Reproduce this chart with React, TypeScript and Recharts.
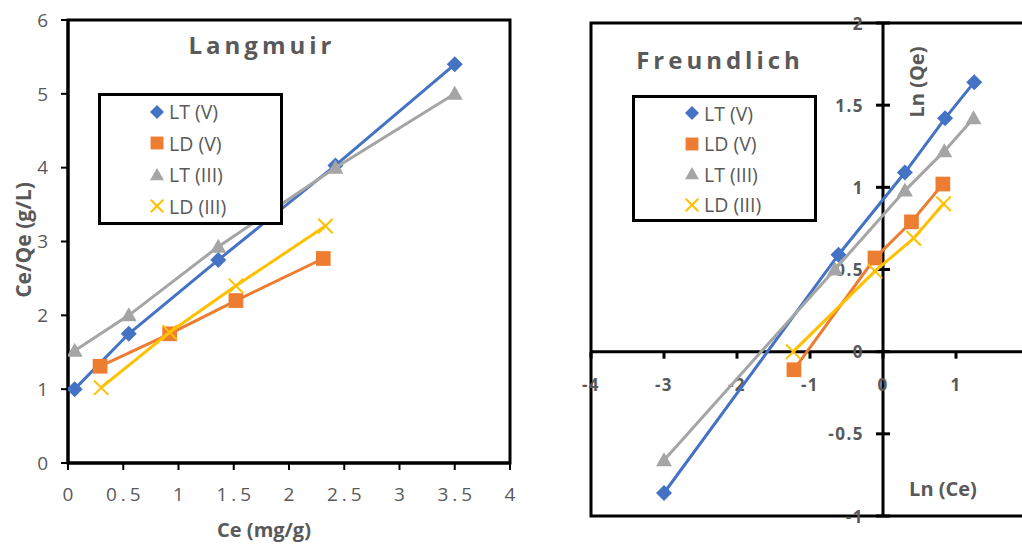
import React from 'react';
import {
  ScatterChart,
  Scatter,
  XAxis,
  YAxis,
  ReferenceArea,
  ReferenceLine,
  ReferenceDot,
  Legend,
} from 'recharts';

// ---------- series meta ----------
const seriesNames = ['LT (V)', 'LD (V)', 'LT (III)', 'LD (III)'];
const seriesColors = ['#4472C4', '#ED7D31', '#A5A5A5', '#FFC000'];
const seriesShapes = ['diamond', 'square', 'triangle', 'x'];

// ---------- Langmuir data ----------
const langLTV_x = [0.06, 0.55, 1.36, 2.42, 3.5];
const langLTV_y = [1.0, 1.75, 2.75, 4.03, 5.4];
const langLDV_x = [0.29, 0.92, 1.52, 2.31];
const langLDV_y = [1.31, 1.75, 2.2, 2.77];
const langLTIII_x = [0.06, 0.55, 1.36, 2.42, 3.5];
const langLTIII_y = [1.52, 2.0, 2.93, 4.0, 5.0];
const langLDIII_x = [0.3, 0.92, 1.52, 2.33];
const langLDIII_y = [1.02, 1.77, 2.4, 3.21];
const langXTicks = [0, 0.5, 1, 1.5, 2, 2.5, 3, 3.5, 4];
const langYTicks = [0, 1, 2, 3, 4, 5, 6];

// ---------- Freundlich data ----------
const frLTV_x = [-3.0, -0.61, 0.3, 0.85, 1.25];
const frLTV_y = [-0.86, 0.59, 1.09, 1.42, 1.64];
const frLDV_x = [-1.22, -0.11, 0.39, 0.82];
const frLDV_y = [-0.11, 0.57, 0.79, 1.02];
const frLTIII_x = [-3.0, -0.66, 0.3, 0.84, 1.24];
const frLTIII_y = [-0.66, 0.5, 0.98, 1.22, 1.42];
const frLDIII_x = [-1.23, -0.11, 0.42, 0.83];
const frLDIII_y = [0.0, 0.49, 0.69, 0.9];
const frXTicks = [-4, -3, -2, -1, 0, 1];
const frYTicks = [-1, -0.5, 0, 0.5, 1, 1.5, 2];

const zip = (xs: number[], ys: number[]) => xs.map((x, i) => ({ x, y: ys[i] }));

const langSeries = [
  zip(langLTV_x, langLTV_y),
  zip(langLDV_x, langLDV_y),
  zip(langLTIII_x, langLTIII_y),
  zip(langLDIII_x, langLDIII_y),
];
const frSeries = [
  zip(frLTV_x, frLTV_y),
  zip(frLDV_x, frLDV_y),
  zip(frLTIII_x, frLTIII_y),
  zip(frLDIII_x, frLDIII_y),
];

const FONT = "'Open Sans', 'Noto Sans', sans-serif";
const GRAY_TEXT = '#595959';

function Marker({ shape, cx, cy, color, s = 8 }: any) {
  if (cx == null || cy == null) return null;
  switch (shape) {
    case 'diamond':
      return (
        <polygon
          points={`${cx},${cy - s} ${cx + s},${cy} ${cx},${cy + s} ${cx - s},${cy}`}
          fill={color}
        />
      );
    case 'square': {
      const h = s * 0.92;
      return <rect x={cx - h} y={cy - h} width={2 * h} height={2 * h} fill={color} />;
    }
    case 'triangle':
      return (
        <polygon
          points={`${cx},${cy - s} ${cx + s},${cy + s * 0.75} ${cx - s},${cy + s * 0.75}`}
          fill={color}
        />
      );
    case 'x':
    default: {
      const h = s * 0.9;
      return (
        <g stroke={color} strokeWidth={2}>
          <line x1={cx - h} y1={cy - h} x2={cx + h} y2={cy + h} />
          <line x1={cx - h} y1={cy + h} x2={cx + h} y2={cy - h} />
        </g>
      );
    }
  }
}

function LegendBox({ padLeft, rowH }: { padLeft: number; rowH: number }) {
  return (
    <div
      style={{
        width: '100%',
        height: '100%',
        boxSizing: 'border-box',
        border: '3px solid #000',
        background: '#fff',
        paddingLeft: padLeft,
        paddingTop: 0,
        fontFamily: FONT,
      }}
    >
      {seriesNames.map((n, i) => (
        <div
          key={n}
          style={{ height: rowH, display: 'flex', alignItems: 'center', color: GRAY_TEXT, fontSize: 19.5 }}
        >
          <svg width={16} height={16} style={{ marginRight: 4, flex: 'none' }}>
            <Marker shape={seriesShapes[i]} cx={8} cy={8} color={seriesColors[i]} s={7} />
          </svg>
          <span>{n}</span>
        </div>
      ))}
    </div>
  );
}

const absText = (
  text: string,
  cx: number,
  cy: number,
  size: number,
  opts: { rotate?: boolean; spacing?: number; color?: string } = {}
) => (
  <div
    style={{
      position: 'absolute',
      left: cx,
      top: cy,
      transform: `translate(-50%, -50%)${opts.rotate ? ' rotate(-90deg)' : ''}`,
      fontFamily: FONT,
      fontWeight: 700,
      fontSize: size,
      letterSpacing: opts.spacing ?? 0,
      color: opts.color ?? GRAY_TEXT,
      whiteSpace: 'nowrap',
      lineHeight: 1,
    }}
  >
    {text}
  </div>
);

function LangmuirChart() {
  return (
    <div style={{ position: 'absolute', left: 0, top: 0 }}>
      <ScatterChart width={530} height={545} margin={{ top: 20, right: 20, left: 20, bottom: 42 }}>
        <XAxis
          type="number"
          dataKey="x"
          domain={[0, 4]}
          ticks={langXTicks}
          interval={0}
          height={40}
          tickSize={7}
          tickMargin={18}
          axisLine={{ stroke: '#000', strokeWidth: 3 }}
          tickLine={{ stroke: '#000', strokeWidth: 2 }}
          tick={{ fill: GRAY_TEXT, fontSize: 19, letterSpacing: 4, fontFamily: FONT, dx: 2 }}
          allowDataOverflow
        />
        <YAxis
          type="number"
          dataKey="y"
          domain={[0, 6]}
          ticks={langYTicks}
          interval={0}
          width={48}
          tickSize={7}
          tickMargin={13}
          axisLine={{ stroke: '#000', strokeWidth: 3 }}
          tickLine={{ stroke: '#000', strokeWidth: 2 }}
          tick={{ fill: GRAY_TEXT, fontSize: 19, fontFamily: FONT }}
          allowDataOverflow
        />
        <ReferenceArea x1={0} x2={4} y1={0} y2={6} fill="none" stroke="#000" strokeWidth={3} />
        {langSeries.map((d, i) => (
          <Scatter
            key={seriesNames[i]}
            name={seriesNames[i]}
            data={d}
            fill={seriesColors[i]}
            line={{ stroke: seriesColors[i], strokeWidth: 3 }}
            lineType="joint"
            isAnimationActive={false}
            shape={(p: any) => <Marker shape={seriesShapes[i]} cx={p.cx} cy={p.cy} color={seriesColors[i]} />}
          />
        ))}
        <Legend
          layout="vertical"
          align="center"
          verticalAlign="middle"
          wrapperStyle={{ left: 98, top: 93, width: 185, height: 132 }}
          content={() => <LegendBox padLeft={48} rowH={31.5} />}
        />
      </ScatterChart>
      {absText('Langmuir', 262, 45, 24, { spacing: 4 })}
      {absText('Ce (mg/g)', 264, 530, 20)}
      {absText('Ce/Qe (g/L)', 23, 240, 21, { rotate: true })}
    </div>
  );
}

const frXTickShape = (v: number) => (p: any) => (
  <g>
    <line x1={p.cx} y1={p.cy} x2={p.cx} y2={p.cy + 7} stroke="#000" strokeWidth={3} />
    <text
      x={p.cx}
      y={p.cy + 33}
      textAnchor="middle"
      dominantBaseline="central"
      fill={GRAY_TEXT}
      fontWeight={700}
      fontSize={17}
      letterSpacing={1.5}
      fontFamily={FONT}
    >
      {String(v)}
    </text>
  </g>
);

const frYTickShape = (v: number) => (p: any) => (
  <g>
    <line x1={p.cx - 7} y1={p.cy} x2={p.cx + 7} y2={p.cy} stroke="#000" strokeWidth={3} />
    <text
      x={p.cx - 19}
      y={p.cy}
      textAnchor="end"
      dominantBaseline="central"
      fill={GRAY_TEXT}
      fontWeight={700}
      fontSize={17}
      letterSpacing={1.5}
      fontFamily={FONT}
    >
      {String(v)}
    </text>
  </g>
);

function FreundlichChart() {
  return (
    <div style={{ position: 'absolute', left: 560, top: 0 }}>
      <ScatterChart width={490} height={545} margin={{ top: 23, right: 21, left: 31, bottom: 29 }}>
        <XAxis type="number" dataKey="x" domain={[-4, 2]} hide allowDataOverflow />
        <YAxis type="number" dataKey="y" domain={[-1, 2]} hide allowDataOverflow />
        <ReferenceArea x1={-4} x2={2} y1={-1} y2={2} fill="none" stroke="#000" strokeWidth={3} />
        <ReferenceLine y={0} stroke="#000" strokeWidth={3} />
        <ReferenceLine x={0} stroke="#000" strokeWidth={3} />
        {frXTicks.map((v) => (
          <ReferenceDot key={'x' + v} x={v} y={0} r={1} ifOverflow="visible" shape={frXTickShape(v)} />
        ))}
        {frYTicks.map((v) => (
          <ReferenceDot key={'y' + v} x={0} y={v} r={1} ifOverflow="visible" shape={frYTickShape(v)} />
        ))}
        {frSeries.map((d, i) => (
          <Scatter
            key={seriesNames[i]}
            name={seriesNames[i]}
            data={d}
            fill={seriesColors[i]}
            line={{ stroke: seriesColors[i], strokeWidth: 3 }}
            lineType="joint"
            isAnimationActive={false}
            shape={(p: any) => <Marker shape={seriesShapes[i]} cx={p.cx} cy={p.cy} color={seriesColors[i]} />}
          />
        ))}
        <Legend
          layout="vertical"
          align="center"
          verticalAlign="middle"
          wrapperStyle={{ left: 72, top: 95, width: 185, height: 127 }}
          content={() => <LegendBox padLeft={49} rowH={30.5} />}
        />
      </ScatterChart>
      {absText('Freundlich', 160, 60, 24, { spacing: 4 })}
      {absText('Ln (Qe)', 357, 82, 20, { rotate: true })}
      {absText('Ln (Ce)', 383, 489, 20)}
    </div>
  );
}

export default function App() {
  return (
    <div
      style={{
        position: 'fixed',
        left: 0,
        top: 0,
        width: 1022,
        height: 545,
        overflow: 'hidden',
        background: '#fff',
        fontFamily: FONT,
      }}
    >
      <LangmuirChart />
      <FreundlichChart />
    </div>
  );
}
